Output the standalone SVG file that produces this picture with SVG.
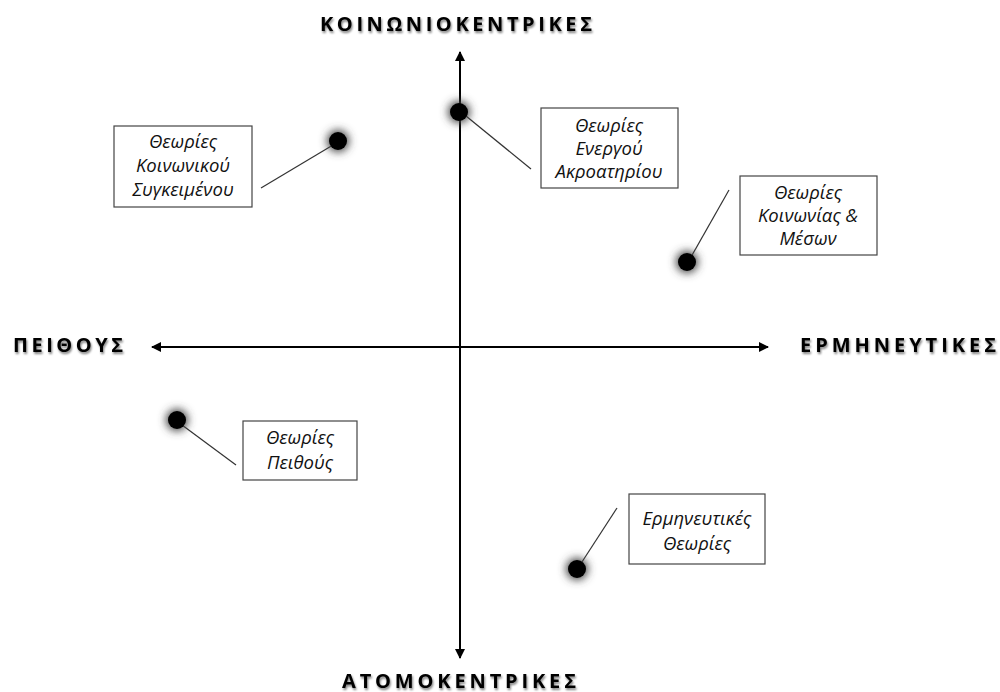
<svg xmlns="http://www.w3.org/2000/svg" width="1000" height="692" viewBox="0 0 1000 692">
<style>
.axis{stroke:#000;stroke-width:2;fill:none}
.lead{stroke:#333;stroke-width:1.2;fill:none}
.box{fill:#fff;stroke:#444;stroke-width:1.2}
.lbl{font-family:"Open Sans","Noto Sans",sans-serif;font-style:italic;font-size:18.5px;fill:#111;text-anchor:middle}
.ax{font-family:"Open Sans","Noto Sans",sans-serif;font-weight:bold;font-size:20px;fill:#000}
.dot{fill:#000}
.glow{fill:#444;filter:url(#blur)}
</style>
<defs>
<filter id="blur" x="-1" y="-1" width="3" height="3"><feGaussianBlur stdDeviation="4.5"/></filter>
<filter id="tsh" x="-0.1" y="-0.3" width="1.2" height="1.6"><feGaussianBlur in="SourceAlpha" stdDeviation="1"/><feOffset dx="1" dy="1.5"/><feComponentTransfer><feFuncA type="linear" slope="0.5"/></feComponentTransfer><feMerge><feMergeNode/><feMergeNode in="SourceGraphic"/></feMerge></filter>
<marker id="ah" viewBox="0 0 10 10" refX="9" refY="5" markerWidth="5" markerHeight="5" orient="auto-start-reverse"><path d="M0,0 L10,5 L0,10 z" fill="#000"/></marker>
</defs>
<g id="connectors">
<line class="axis" x1="460" y1="658" x2="460" y2="52" marker-start="url(#ah)" marker-end="url(#ah)"/>
<line class="axis" x1="152" y1="347" x2="768" y2="347" marker-start="url(#ah)" marker-end="url(#ah)"/>
<line class="lead" x1="333" y1="145" x2="261" y2="188"/>
<line class="lead" x1="466" y1="116" x2="531" y2="169"/>
<line class="lead" x1="729" y1="190" x2="691" y2="257"/>
<line class="lead" x1="182" y1="425" x2="236" y2="465"/>
<line class="lead" x1="617" y1="508" x2="580" y2="565"/>
</g>
<g id="axis-labels" filter="url(#tsh)">
<text id="top-label" class="ax" x="320" y="31" textLength="272" lengthAdjust="spacing">ΚΟΙΝΩΝΙΟΚΕΝΤΡΙΚΕΣ</text>
<text id="left-label" class="ax" x="13" y="352" textLength="110" lengthAdjust="spacing">ΠΕΙΘΟΥΣ</text>
<text id="right-label" class="ax" x="800" y="352" textLength="196" lengthAdjust="spacing">ΕΡΜΗΝΕΥΤΙΚΕΣ</text>
<text id="bottom-label" class="ax" x="342" y="688" textLength="234" lengthAdjust="spacing">ΑΤΟΜΟΚΕΝΤΡΙΚΕΣ</text>
</g>
<g id="dot1"><circle class="glow" cx="338" cy="141" r="11"/><circle class="dot" cx="338" cy="141" r="9"/></g>
<g id="dot2"><circle class="glow" cx="459" cy="112" r="11"/><circle class="dot" cx="459" cy="112" r="9"/></g>
<g id="dot3"><circle class="glow" cx="687" cy="262" r="11"/><circle class="dot" cx="687" cy="262" r="9"/></g>
<g id="dot4"><circle class="glow" cx="177" cy="420" r="11"/><circle class="dot" cx="177" cy="420" r="9"/></g>
<g id="dot5"><circle class="glow" cx="577" cy="569" r="11"/><circle class="dot" cx="577" cy="569" r="9"/></g>
<g id="box-social-context"><rect class="box" x="114" y="126" width="138" height="81"/>
<text class="lbl" x="183" y="148">Θεωρίες</text><text class="lbl" x="183" y="172">Κοινωνικού</text><text class="lbl" x="183" y="196">Συγκειμένου</text></g>
<g id="box-active-audience"><rect class="box" x="541" y="108" width="137" height="80"/>
<text class="lbl" x="609" y="132">Θεωρίες</text><text class="lbl" x="609" y="155">Ενεργού</text><text class="lbl" x="609" y="178">Ακροατηρίου</text></g>
<g id="box-society-media"><rect class="box" x="740" y="176" width="137" height="79"/>
<text class="lbl" x="808" y="199">Θεωρίες</text><text class="lbl" x="808" y="222">Κοινωνίας &amp;</text><text class="lbl" x="808" y="245">Μέσων</text></g>
<g id="box-persuasion"><rect class="box" x="243" y="421" width="114" height="59"/>
<text class="lbl" x="300" y="444">Θεωρίες</text><text class="lbl" x="300" y="469">Πειθούς</text></g>
<g id="box-interpretive"><rect class="box" x="629" y="494" width="136" height="70"/>
<text class="lbl" x="697" y="525">Ερμηνευτικές</text><text class="lbl" x="697" y="550">Θεωρίες</text></g>
</svg>
